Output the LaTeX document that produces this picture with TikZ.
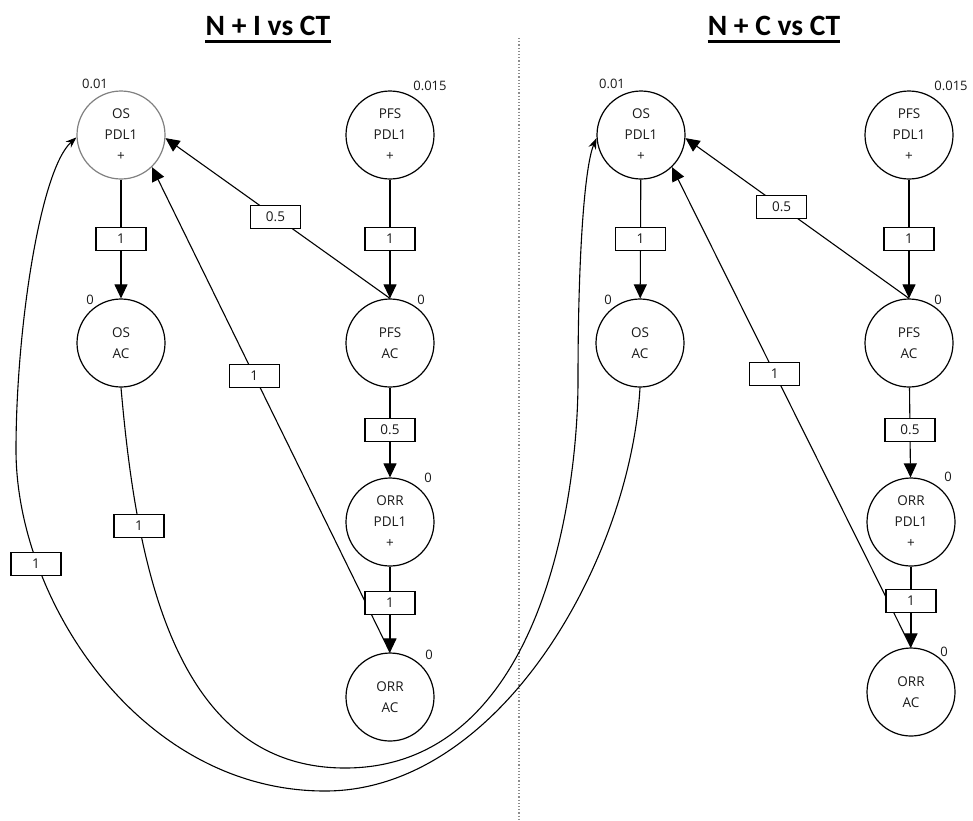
\documentclass[tikz,border=0pt]{standalone}
\usepackage{fontspec}
\newfontfamily\nodefont{Open Sans}
\newfontfamily\titlefont{Carlito}
\usetikzlibrary{arrows.meta}
\begin{document}
\begin{tikzpicture}[x=1pt,y=-1pt,
  state/.style={circle, draw, line width=1.2pt, minimum size=88pt, inner sep=0pt, align=center,
    font=\nodefont\fontsize{13.5}{21}\selectfont, text=black!90},
  wbox/.style={draw, fill=white, line width=1.1pt, minimum width=50pt, minimum height=23pt, inner sep=0pt,
    font=\nodefont\fontsize{13.5}{15}\selectfont, text=black!90},
  tok/.style={font=\nodefont\fontsize{13}{14}\selectfont, inner sep=0pt, text=black!90},
  arc/.style={line width=1.1pt, -{Triangle[width=13pt,length=14pt]}},
  carc/.style={line width=1.1pt, -{Stealth[width=8pt,length=11pt]}},
  ttl/.style={font=\titlefont\bfseries\fontsize{29.5}{31}\selectfont, inner sep=0pt, anchor=base}
]
\useasboundingbox (0,0) rectangle (973,820);

% divider
\coordinate (dtop) at (519,38);
\coordinate (dbot) at (519,820);
\draw[black!45, dotted, line width=1.2pt] (dtop) -- (dbot);

% titles
\node[ttl] (t1) at (268,35) {N + I vs CT};
\draw[line width=2.6pt] ([yshift=-6.5pt]t1.base west) -- ([yshift=-6.5pt]t1.base east);
\node[ttl] (t2) at (774,35) {N + C vs CT};
\draw[line width=2.6pt] ([yshift=-6.5pt]t2.base west) -- ([yshift=-6.5pt]t2.base east);

% left states
\node[state, draw=black!50] (osL) at (121,135) {OS\\PDL1\\+};
\node[state] (pfsL) at (390,135) {PFS\\PDL1\\+};
\node[state] (oacL) at (121,343) {OS\\AC};
\node[state] (pacL) at (390,343) {PFS\\AC};
\node[state] (orrL) at (390,522) {ORR\\PDL1\\+};
\node[state] (oraL) at (390,697) {ORR\\AC};

% right states
\node[state] (osR) at (641,135) {OS\\PDL1\\+};
\node[state] (pfsR) at (909,135) {PFS\\PDL1\\+};
\node[state] (oacR) at (640,343) {OS\\AC};
\node[state] (pacR) at (909,343) {PFS\\AC};
\node[state] (orrR) at (911,522) {ORR\\PDL1\\+};
\node[state] (oraR) at (911,692) {ORR\\AC};

% initial values
\node[tok] (vosL) at (95,84) {0.01};
\node[tok] (vpfsL) at (430,86) {0.015};
\node[tok] (voacL) at (90,300) {0};
\node[tok] (vpacL) at (421,300) {0};
\node[tok] (vorrL) at (428,478) {0};
\node[tok] (voraL) at (429,655) {0};
\node[tok] (vosR) at (612,84) {0.01};
\node[tok] (vpfsR) at (951,86) {0.015};
\node[tok] (voacR) at (608,300) {0};
\node[tok] (vpacR) at (938,300) {0};
\node[tok] (vorrR) at (948,477) {0};
\node[tok] (voraR) at (944,652) {0};

% cross curves
\draw[carc] (oacL.south) .. controls (136,559) and (172,768) .. (345,768)
  .. controls (540,768) and (578,500) .. (578,380)
  .. controls (578,250) and (585,165) .. (osR.184);
\draw[carc] (oacR.south) .. controls (630,560) and (500,791) .. (325,791)
  .. controls (140,791) and (16,600) .. (16,450)
  .. controls (16,330) and (40,170) .. (osL.183);
\node[wbox] (cA) at (139,526) {1};
\node[wbox] (cB) at (36,564) {1};

% left edges
\draw[arc] (osL) -- node[wbox]{1} (oacL);
\draw[arc] (pfsL) -- node[wbox]{1} (pacL);
\draw[arc] (pacL.north) -- node[wbox,pos=0.51]{0.5} (osL.-4);
\draw[arc] (oraL.north) -- node[wbox,pos=0.57]{1} (osL.-46);
\draw[arc] (pacL) -- node[wbox,pos=0.47]{0.5} (orrL);
\draw[arc] (orrL) -- node[wbox,pos=0.42]{1} (oraL);

% right edges
\draw[arc] (osR) -- node[wbox]{1} (oacR);
\draw[arc] (pfsR) -- node[wbox]{1} (pacR);
\draw[arc] (pacR.north) -- node[wbox,pos=0.57]{0.5} (osR.-4);
\draw[arc] (oraR.north) -- node[wbox,pos=0.57]{1} (osR.-46);
\draw[arc] (pacR) -- node[wbox,pos=0.47]{0.5} (orrR);
\draw[arc] (orrR) -- node[wbox,pos=0.42]{1} (oraR);
\end{tikzpicture}
\end{document}
